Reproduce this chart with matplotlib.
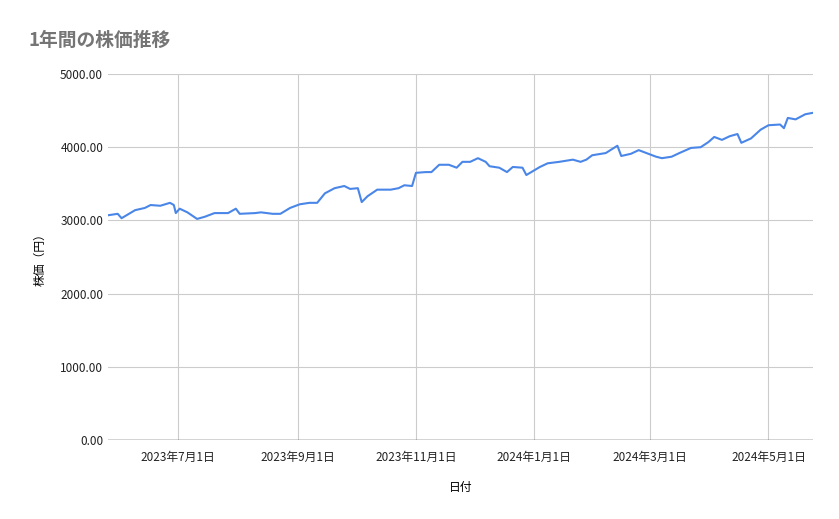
import matplotlib
matplotlib.use("Agg")
import matplotlib.pyplot as plt
import pandas as pd

plt.rcParams['font.family'] = ['Noto Sans CJK JP', 'DejaVu Sans']

dates = ["2023-05-26","2023-05-31","2023-06-02","2023-06-09","2023-06-14","2023-06-17","2023-06-22",
"2023-06-27","2023-06-29","2023-06-30","2023-07-02","2023-07-06","2023-07-11","2023-07-15","2023-07-20",
"2023-07-27","2023-07-31","2023-08-02","2023-08-10","2023-08-13","2023-08-19","2023-08-23","2023-08-28",
"2023-09-02","2023-09-07","2023-09-11","2023-09-15","2023-09-20","2023-09-25","2023-09-28","2023-10-02",
"2023-10-04","2023-10-07","2023-10-12","2023-10-19","2023-10-23","2023-10-26","2023-10-30","2023-11-01",
"2023-11-06","2023-11-09","2023-11-13","2023-11-18","2023-11-22","2023-11-25","2023-11-29","2023-12-03",
"2023-12-07","2023-12-09","2023-12-14","2023-12-18","2023-12-21","2023-12-26","2023-12-28","2024-01-04",
"2024-01-08","2024-01-14","2024-01-21","2024-01-25","2024-01-28","2024-01-31","2024-02-07","2024-02-13",
"2024-02-15","2024-02-20","2024-02-24","2024-02-28","2024-03-04","2024-03-07","2024-03-12","2024-03-16",
"2024-03-22","2024-03-27","2024-03-31","2024-04-03","2024-04-07","2024-04-11","2024-04-15","2024-04-17",
"2024-04-22","2024-04-27","2024-05-01","2024-05-07","2024-05-09","2024-05-11","2024-05-15","2024-05-20","2024-05-24"]
prices = [3070,3090,3030,3140,3170,3210,3200,3240,3210,3100,3160,3110,3020,3050,3100,3100,3160,3090,3100,3110,
3090,3090,3170,3220,3240,3240,3370,3440,3470,3430,3440,3250,3330,3420,3420,3440,3480,3470,3650,3660,3660,
3760,3760,3720,3800,3800,3850,3800,3740,3720,3660,3730,3720,3620,3730,3780,3800,3830,3800,3830,3890,3920,
4020,3880,3910,3960,3920,3870,3850,3870,3920,3990,4000,4070,4140,4100,4150,4180,4060,4120,4240,4300,4310,
4260,4400,4380,4450,4470]
tick_dates = ["2023-07-01","2023-09-01","2023-11-01","2024-01-01","2024-03-01","2024-05-01"]
tick_labels = ["2023年7月1日","2023年9月1日","2023年11月1日","2024年1月1日","2024年3月1日","2024年5月1日"]
yticks = [0, 1000, 2000, 3000, 4000, 5000]

fig = plt.figure(figsize=(8.39, 5.19), dpi=100)
ax = fig.add_axes([108/839, 1-440/519, (813-108)/839, (440-74)/519])
ax.plot(pd.to_datetime(dates), prices, color='#4a86e8', lw=1.5)
ax.set_xlim(pd.Timestamp("2023-05-26"), pd.Timestamp("2024-05-24"))
ax.set_ylim(0, 5000)
ax.set_yticks(yticks)
ax.set_yticklabels([f"{v:.2f}" for v in yticks])
ax.set_xticks(pd.to_datetime(tick_dates))
ax.set_xticklabels(tick_labels)
ax.grid(True, color='#cccccc', lw=0.8)
ax.set_axisbelow(True)
for s in ax.spines.values():
    s.set_visible(False)
ax.axhline(0, color='#333333', lw=1)
ax.tick_params(length=0, labelsize=8.5, colors='#222222')
ax.tick_params(axis='x', pad=8)
ax.set_xlabel("日付", fontsize=8.5, labelpad=12)
ax.set_ylabel("株価（円）", fontsize=8.5, labelpad=10)
fig.text(28/839, 1-40/519, "1年間の株価推移", fontsize=13.5, color='#757575', fontweight='bold', va='center')
fig.savefig("out.png", dpi=100)
